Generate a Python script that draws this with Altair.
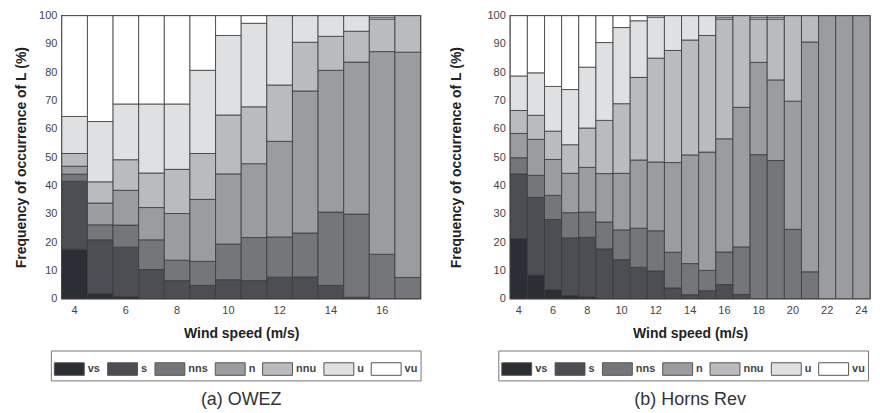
import altair as alt
import pandas as pd

cats = ["vs", "s", "nns", "n", "nnu", "u", "vu"]
colors = ["#2b2e35", "#4c4e53", "#74767a", "#9b9ca0", "#babbbe", "#dfe0e2", "#ffffff"]

# (a) OWEZ: wind speed bins and cumulative top of each stability class (%)
owez_ws = list(range(4, 18))
owez_vs = [17.5, 1.8, 0.7, 0, 0, 0, 0, 0, 0, 0, 0, 0, 0, 0]
owez_s = [41.5, 20.8, 18.2, 10.3, 6.4, 4.7, 6.7, 6.4, 7.6, 7.7, 4.7, 0.5, 0, 0]
owez_nns = [44.0, 26.1, 26.0, 20.8, 13.6, 13.2, 19.3, 21.6, 21.8, 23.2, 30.6, 29.9, 15.7, 7.5]
owez_n = [46.8, 33.8, 38.3, 32.2, 30.1, 35.1, 44.1, 47.7, 55.6, 73.4, 80.7, 83.6, 87.3, 87.1]
owez_nnu = [51.3, 41.3, 49.1, 44.4, 45.7, 51.3, 64.9, 67.8, 75.5, 90.6, 92.7, 94.5, 98.8, 100]
owez_u = [64.4, 62.6, 68.8, 68.8, 68.8, 80.7, 93.0, 97.3, 100, 100, 100, 100, 99.5, 100]
owez_vu = [100] * 14

# (b) Horns Rev
hr_ws = list(range(4, 25))
hr_vs = [21.3, 8.4, 3.2, 1.1, 0.7, 0, 0, 0, 0, 0, 0, 0, 0, 0, 0, 0, 0, 0, 0, 0, 0]
hr_s = [44.1, 35.8, 28.0, 21.5, 21.7, 17.6, 13.8, 11.1, 9.8, 3.8, 1.4, 2.8, 5.0, 1.5, 0, 0, 0, 0, 0, 0, 0]
hr_nns = [49.8, 43.6, 36.5, 30.4, 30.6, 27.1, 24.3, 24.9, 24.0, 16.4, 12.4, 10.0, 16.5, 18.3, 50.9, 48.8, 24.5, 9.5, 0, 0, 0]
hr_n = [58.4, 56.3, 49.2, 44.3, 46.4, 44.2, 44.3, 49.0, 48.3, 48.1, 50.8, 51.8, 56.5, 67.6, 83.5, 77.3, 69.8, 90.7, 100, 100, 100]
hr_nnu = [66.5, 64.8, 59.2, 54.4, 60.3, 63.0, 68.9, 78.2, 85.0, 87.7, 91.4, 93.0, 98.8, 100, 98.8, 98.8, 100, 100, 100, 100, 100]
hr_u = [78.7, 79.8, 75.0, 73.9, 81.8, 90.5, 95.8, 98.2, 99.5, 100, 100, 100, 99.5, 100, 99.5, 99.5, 100, 100, 100, 100, 100]
hr_vu = [100] * 21

y_ticks = list(range(0, 101, 10))
FONT = "Liberation Sans"


def build(ws, tops):
    rows = []
    for i, w in enumerate(ws):
        prev = 0
        for c, t in zip(cats, tops):
            top = t[i]
            if top > prev:
                rows.append({"ws": w, "cat": c, "y0": prev, "y1": top})
                prev = top
    return pd.DataFrame(rows)


def panel(ws, tops, title, w, legend_x, ytp):
    df = build(ws, tops)
    even = [v for v in ws if v % 2 == 0]
    return alt.Chart(df).mark_bar(stroke="#3a3a3a", strokeWidth=0.8).encode(
        x=alt.X("ws:O", scale=alt.Scale(paddingInner=0, paddingOuter=0),
                axis=alt.Axis(values=even, labelAngle=0, ticks=False, domain=False,
                              labelPadding=6, title="Wind speed (m/s)", titlePadding=11)),
        y=alt.Y("y1:Q", scale=alt.Scale(domain=[0, 100], nice=False),
                axis=alt.Axis(values=y_ticks, ticks=False, domain=False, grid=False,
                              labelPadding=5, title="Frequency of occurrence of L (%)",
                              titlePadding=ytp)),
        y2="y0:Q",
        color=alt.Color("cat:N", sort=cats,
                        scale=alt.Scale(domain=cats, range=colors),
                        legend=alt.Legend(
                            title=None, orient="none", legendX=legend_x, legendY=336,
                            direction="horizontal", columns=7,
                            symbolType="M-1,-0.42H1V0.42H-1Z", symbolSize=900,
                            symbolStrokeColor="#555", symbolStrokeWidth=1,
                            symbolOpacity=1, labelFont=FONT, labelFontWeight="bold",
                            labelFontSize=11, labelColor="#444", labelOffset=3,
                            columnPadding=4.5, padding=3, strokeColor="#777",
                            fillColor="white")),
    ).properties(
        width=w, height=284,
        title=alt.TitleParams(title, orient="bottom", anchor="middle", fontSize=18,
                              font=FONT, fontWeight="normal", color="#333", offset=10),
    )


left = panel(owez_ws, [owez_vs, owez_s, owez_nns, owez_n, owez_nnu, owez_u, owez_vu],
             "(a) OWEZ", 360, -11, 10)
right = panel(hr_ws, [hr_vs, hr_s, hr_nns, hr_n, hr_nnu, hr_u, hr_vu],
              "(b) Horns Rev", 361, -12, 24)

chart = alt.hconcat(left, right, spacing=25).resolve_scale(color="independent").resolve_legend(
    color="independent"
).properties(
    padding={"left": 5, "top": 0, "right": 0, "bottom": 0}
).configure_view(
    stroke="#555", strokeWidth=1.5
).configure_axis(
    labelFont=FONT, labelFontSize=11, labelColor="#444",
    titleFont=FONT, titleFontSize=14, titleFontWeight="bold", titleColor="#222",
)

chart.save("out.html", embed_options={"renderer": "svg", "actions": False})
